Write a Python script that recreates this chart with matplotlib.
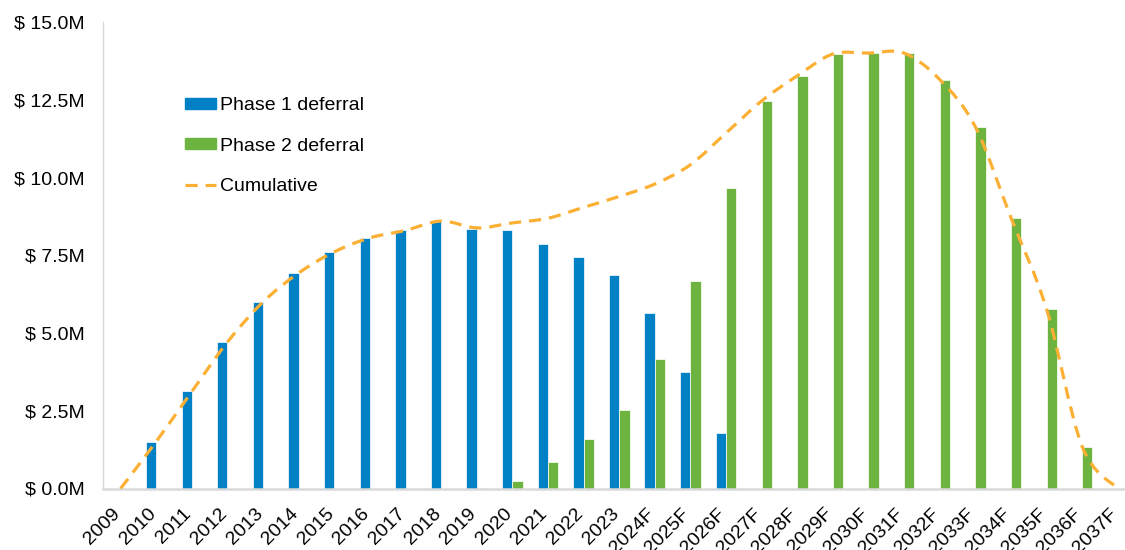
import matplotlib
matplotlib.use("Agg")
import matplotlib.pyplot as plt
import matplotlib.transforms as mtransforms
from matplotlib.path import Path
from matplotlib.patches import PathPatch, Patch
from matplotlib.lines import Line2D
import numpy as np

plt.rcParams['font.family'] = ['Liberation Sans', 'DejaVu Sans']

# --- data (values in $ millions) ---
years = ["2009", "2010", "2011", "2012", "2013", "2014", "2015", "2016", "2017",
         "2018", "2019", "2020", "2021", "2022", "2023", "2024F", "2025F", "2026F",
         "2027F", "2028F", "2029F", "2030F", "2031F", "2032F", "2033F", "2034F",
         "2035F", "2036F", "2037F"]
phase1 = [0, 1.51, 3.12, 4.71, 6.00, 6.93, 7.61, 8.06, 8.30, 8.60, 8.35, 8.30,
          7.85, 7.44, 6.87, 5.63, 3.74, 1.78, 0, 0, 0, 0, 0, 0, 0, 0, 0, 0, 0]
phase2 = [0, 0, 0, 0, 0, 0, 0, 0, 0, 0, 0.03, 0.24, 0.84, 1.60, 2.52, 4.15, 6.67,
          9.65, 12.46, 13.27, 13.97, 14.00, 14.00, 13.15, 11.63, 8.71, 5.77, 1.35, 0]
cumulative = [0, 1.51, 3.12, 4.71, 6.00, 6.93, 7.61, 8.06, 8.30, 8.60, 8.38, 8.54,
              8.69, 9.04, 9.39, 9.79, 10.41, 11.43, 12.46, 13.27, 13.97, 14.00,
              14.00, 13.15, 11.63, 8.71, 5.77, 1.35, 0]

BLUE = "#0081C6"
GREEN = "#6DB33F"
ORANGE = "#FBB034"
GREY = "#D9D9D9"
DASH = (0, (3.8, 2.5))
FS = 14


def smooth_path(xs, ys):
    # Excel-style smoothed line: cubic Bezier through every point
    pts = list(zip(xs, ys))
    verts = [pts[0]]
    codes = [Path.MOVETO]
    n = len(pts)
    for i in range(n - 1):
        p0 = pts[max(i - 1, 0)]
        p1 = pts[i]
        p2 = pts[i + 1]
        p3 = pts[min(i + 2, n - 1)]
        c1 = (p1[0] + (p2[0] - p0[0]) / 6, p1[1] + (p2[1] - p0[1]) / 6)
        c2 = (p2[0] - (p3[0] - p1[0]) / 6, p2[1] - (p3[1] - p1[1]) / 6)
        verts += [c1, c2, p2]
        codes += [Path.CURVE4] * 3
    return Path(verts, codes)


fig = plt.figure(figsize=(11.25, 5.5), dpi=100)
ax = fig.add_axes([0.0914, 1 - 488.5 / 550, 0.918, 466.5 / 550])

x = np.arange(len(years))
w = 0.29
ax.bar(x - w / 2, phase1, w, color=BLUE, edgecolor="white", linewidth=0.5, zorder=2)
ax.bar(x + w / 2, phase2, w, color=GREEN, edgecolor="white", linewidth=0.5, zorder=2)

line = PathPatch(smooth_path(x, cumulative), fill=False, edgecolor=ORANGE,
                 linewidth=2.3, linestyle=DASH, transform=ax.transData,
                 zorder=3, capstyle="butt")
ax.add_patch(line)

ax.set_xlim(-0.5, len(years) - 0.5)
ax.set_ylim(0, 15)
yt = np.arange(0, 15.1, 2.5)
ax.set_yticks(yt)
ax.set_yticklabels([f"$ {v:.1f}M" for v in yt], fontsize=FS)
ax.set_xticks(x)
ax.set_xticklabels(years, rotation=45, ha="right", va="top",
                   rotation_mode="anchor", fontsize=FS)
ax.tick_params(axis="both", length=0)
ax.tick_params(axis="x", pad=12)
ax.tick_params(axis="y", pad=13)

# nudge the slanted year labels left so they end under their bars
shift = mtransforms.ScaledTranslation(-9 / 100, 0, fig.dpi_scale_trans)
for lbl in ax.get_xticklabels():
    lbl.set_transform(lbl.get_transform() + shift)

for s in ["top", "right"]:
    ax.spines[s].set_visible(False)
ax.spines["left"].set_color(GREY)
ax.spines["left"].set_linewidth(1)
ax.spines["bottom"].set_color(GREY)
ax.spines["bottom"].set_linewidth(1.8)

handles = [Patch(color=BLUE, label="Phase 1 deferral"),
           Patch(color=GREEN, label="Phase 2 deferral"),
           Line2D([0], [0], color=ORANGE, lw=2.3, linestyle=DASH, label="Cumulative")]
fig.legend(handles=handles, loc="upper left", bbox_to_anchor=(185 / 1125, 1 - 97 / 550),
           frameon=False, fontsize=FS, handlelength=1.6, handleheight=0.48,
           handletextpad=0.2, labelspacing=1.22, borderpad=0, borderaxespad=0)

fig.savefig("out.png", dpi=100)
